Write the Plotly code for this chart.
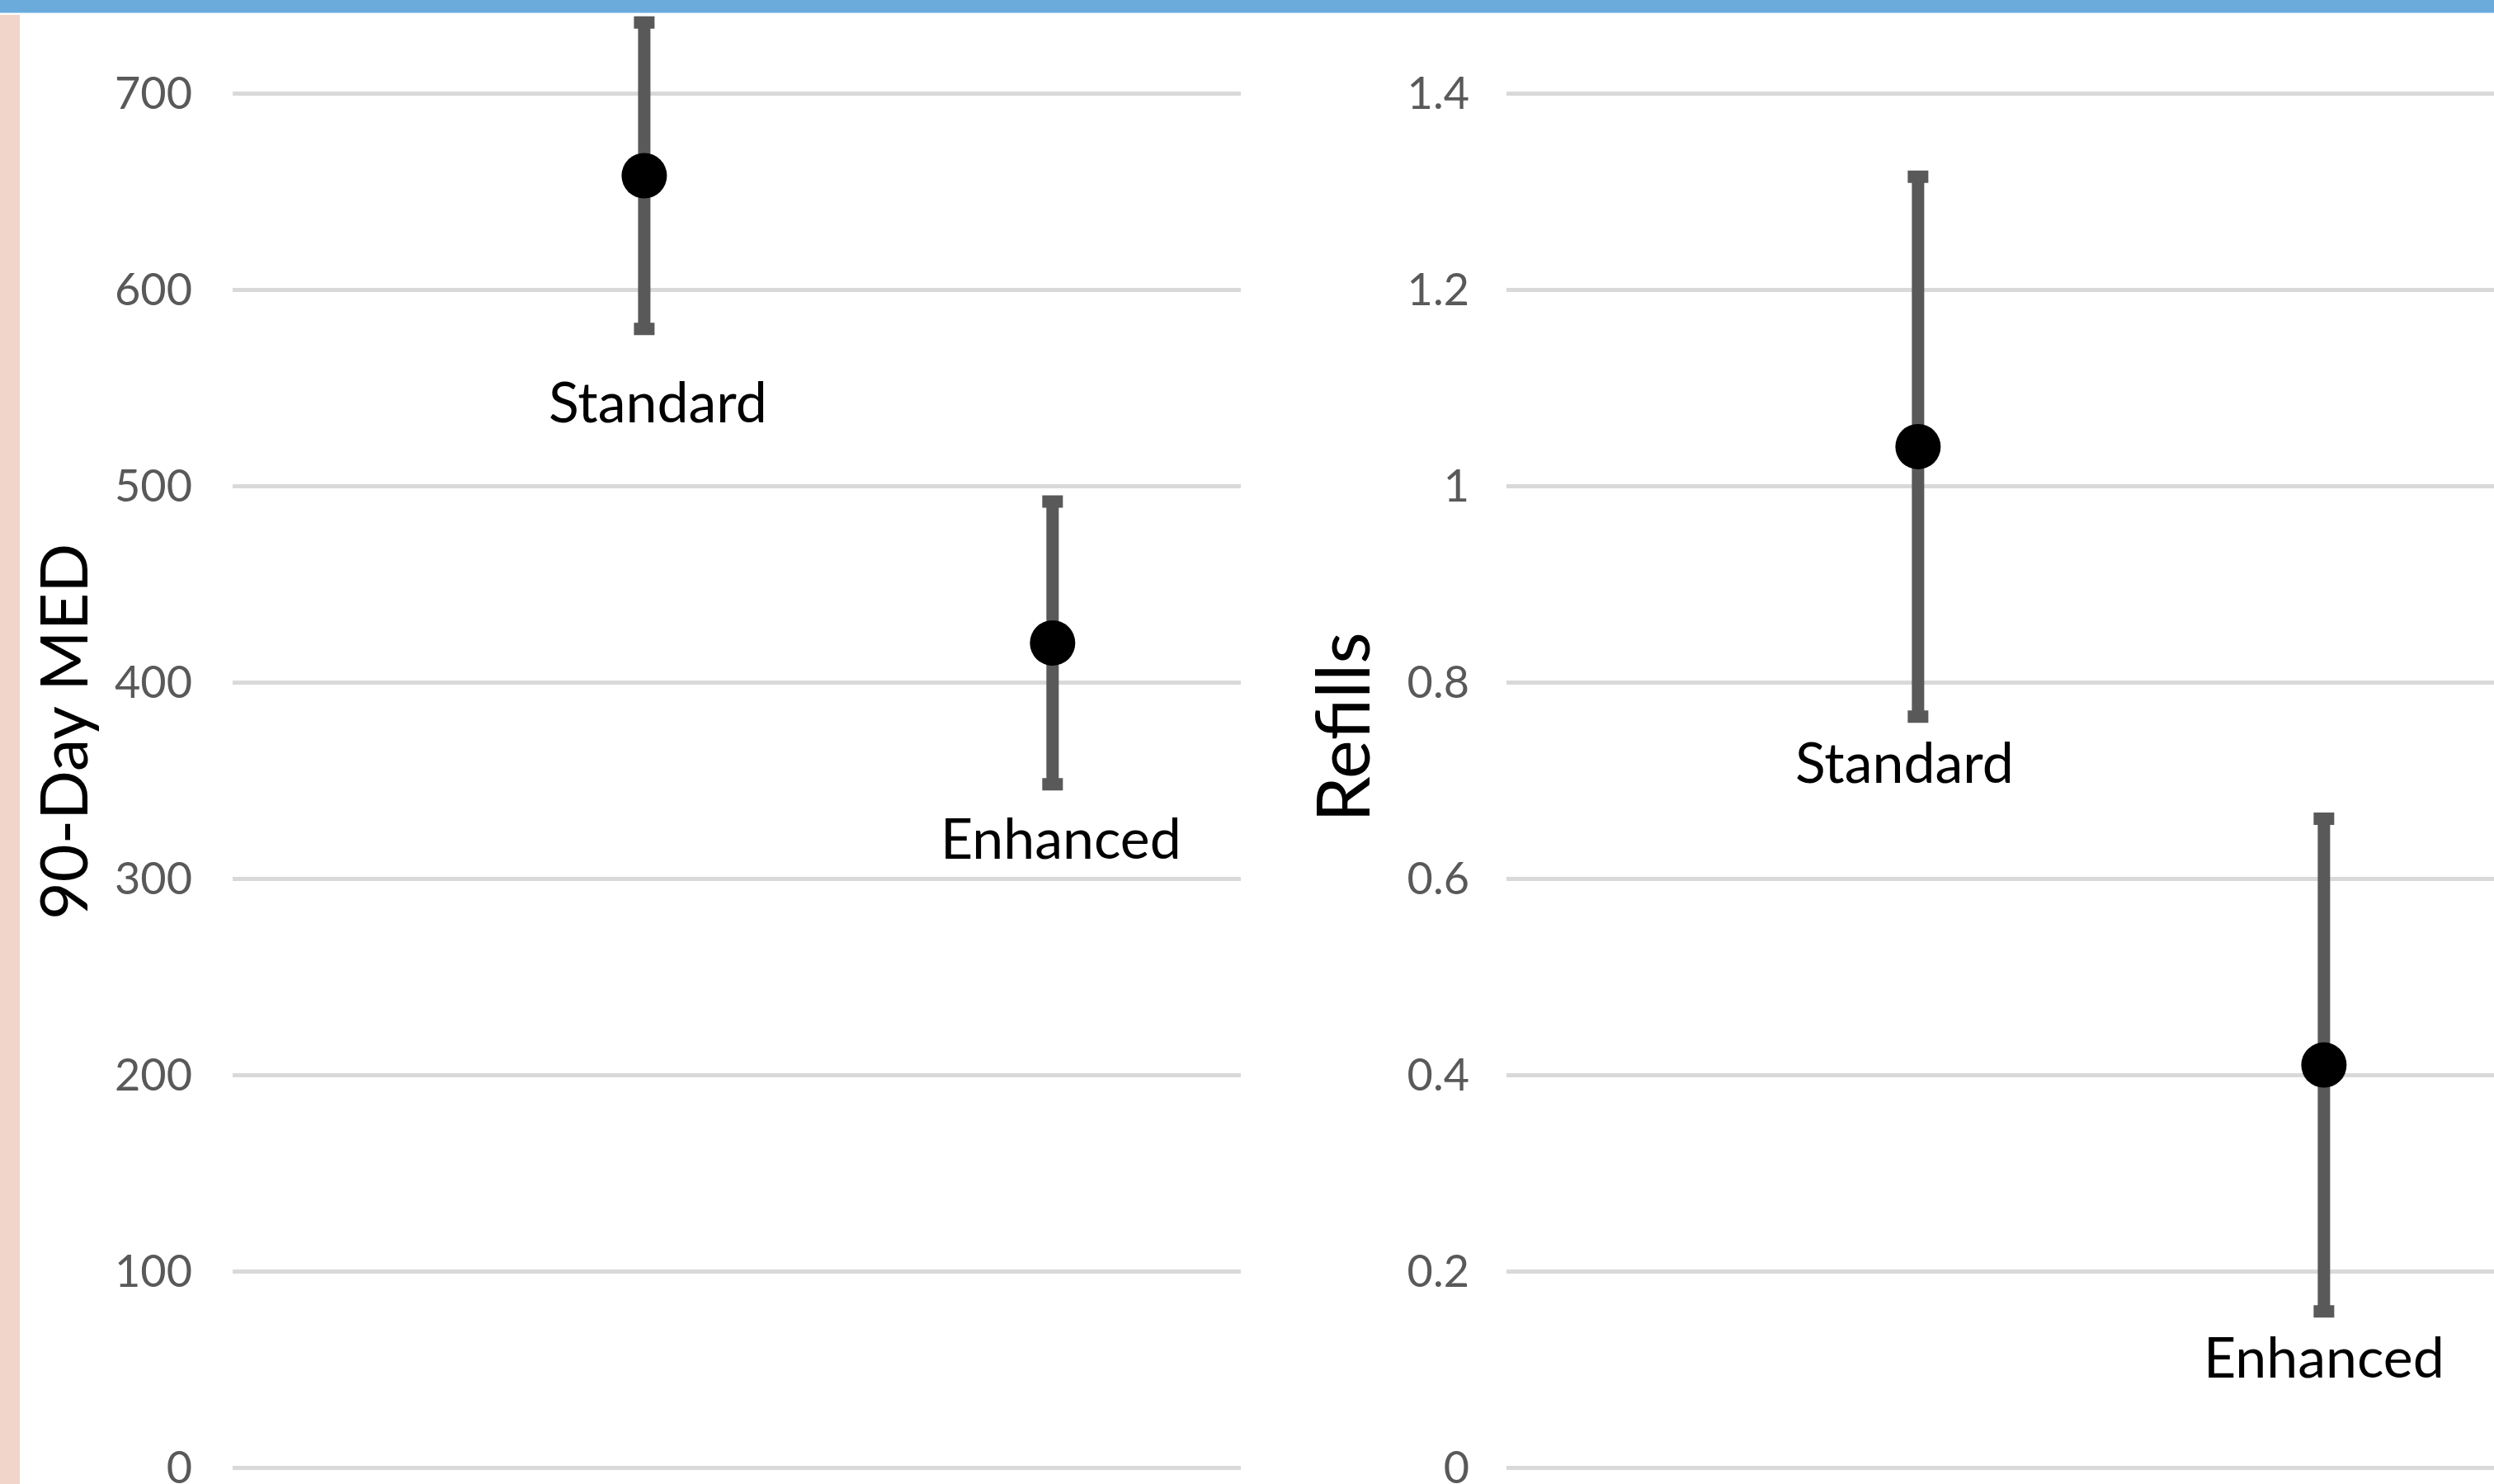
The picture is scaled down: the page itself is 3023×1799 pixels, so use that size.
import plotly.graph_objects as go

# ---- data ----
categories = ["Standard", "Enhanced"]
med_mean = [658, 420]
med_err = [78, 72]
refill_mean = [1.04, 0.41]
refill_err = [0.275, 0.251]
med_ticks = [0, 100, 200, 300, 400, 500, 600, 700]
refill_ticks = [0, 0.2, 0.4, 0.6, 0.8, 1.0, 1.2, 1.4]

W, H = 3023, 1799
FONT = "Lato"
GRID = "#d9d9d9"
ERR = "#595959"

fig = go.Figure()

for cat_vals, err_vals, xa, ya in [(med_mean, med_err, "x", "y"),
                                   (refill_mean, refill_err, "x2", "y2")]:
    fig.add_trace(go.Scatter(
        x=categories, y=cat_vals, mode="markers",
        marker=dict(size=55, color="black"),
        error_y=dict(type="data", array=err_vals, visible=True,
                     color=ERR, thickness=15, width=12.5),
        xaxis=xa, yaxis=ya, showlegend=False, hoverinfo="skip"))

common_x = dict(type="category", showgrid=False, zeroline=False, showline=False,
                showticklabels=False, ticks="", fixedrange=True, automargin=False)
common_y = dict(showgrid=True, gridcolor=GRID, gridwidth=5,
                zeroline=True, zerolinecolor=GRID, zerolinewidth=5,
                showline=False, ticks="", ticklabeloverflow="allow", automargin=False,
                tickfont=dict(family=FONT, size=54, color="#595959"))

fig.update_layout(
    width=W, height=H, autosize=False,
    margin=dict(l=0, r=0, t=0, b=0),
    paper_bgcolor="white", plot_bgcolor="white",
    xaxis=dict(domain=[282 / W, 1504 / W], range=[-1.008, 1.461], **common_x),
    xaxis2=dict(domain=[1826 / W, 1.0], range=[-1.014, 1.419], **common_x),
    yaxis=dict(domain=[0, 1], range=[-8.4, 747.5], tickvals=med_ticks,
               ticktext=[str(v) for v in med_ticks], ticklabelstandoff=48,
               anchor="x", **common_y),
    yaxis2=dict(domain=[0, 1], range=[-0.0168, 1.495], tickvals=refill_ticks,
                ticktext=[f"{v:g}" for v in refill_ticks], ticklabelstandoff=44,
                anchor="x2", **common_y),
)

# category labels placed beneath the lower error bar end
label_specs = [
    ("x", "y", 0, med_mean, med_err, 17, -87),
    ("x", "y", 1, med_mean, med_err, 10, -64),
    ("x2", "y2", 0, refill_mean, refill_err, -16, -54),
    ("x2", "y2", 1, refill_mean, refill_err, 0, -54),
]
for xa, ya, i, means, errs, xs, ys in label_specs:
    fig.add_annotation(x=categories[i], y=means[i] - errs[i], xref=xa, yref=ya,
                       text=categories[i], showarrow=False,
                       xanchor="center", yanchor="middle", xshift=xs, yshift=ys,
                       font=dict(family=FONT, size=68, color="black"))

# axis titles
fig.add_annotation(x=75 / W, y=1 - 887 / H, xref="paper", yref="paper",
                   text="90-Day MED", textangle=-90, showarrow=False,
                   xanchor="center", yanchor="middle",
                   font=dict(family=FONT, size=79, color="black"))
fig.add_annotation(x=1625 / W, y=1 - 881 / H, xref="paper", yref="paper",
                   text="Refills", textangle=-90, showarrow=False,
                   xanchor="center", yanchor="middle",
                   font=dict(family=FONT, size=89, color="black"))

# decorative frame pieces (top blue bar, left pink strip)
fig.add_shape(type="rect", xref="paper", yref="paper", x0=0, x1=1,
              y0=1 - 15 / H, y1=1, fillcolor="#6aabdc", line_width=0, layer="above")
fig.add_shape(type="rect", xref="paper", yref="paper", x0=0, x1=1,
              y0=1 - 16 / H, y1=1 - 15 / H, fillcolor="#a9cfee", line_width=0, layer="above")
fig.add_shape(type="rect", xref="paper", yref="paper", x0=0, x1=24 / W,
              y0=0, y1=1 - 18 / H, fillcolor="#f2d5ca", line_width=0, layer="above")

fig.write_html("out.html", config={"displayModeBar": False, "responsive": False},
               post_script="document.body.style.margin='0';document.body.style.overflow='hidden';")
